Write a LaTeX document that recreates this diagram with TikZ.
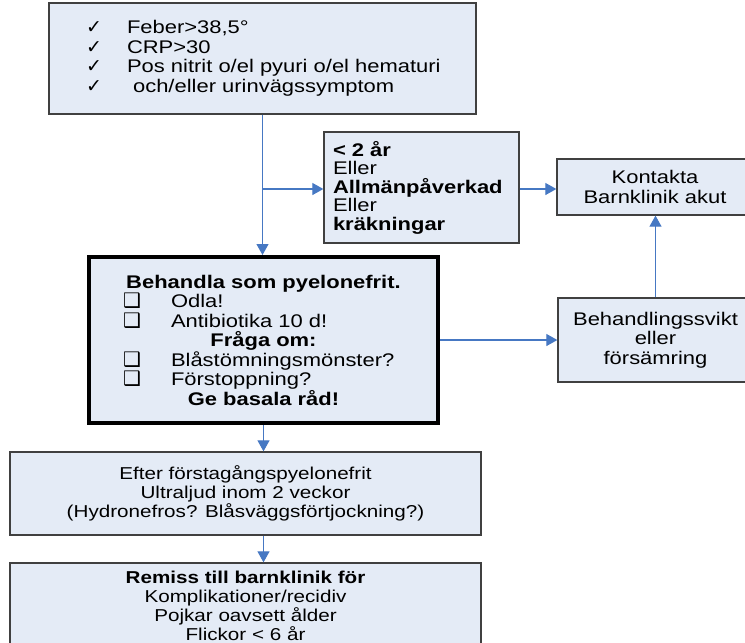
\documentclass[tikz,border=0pt]{standalone}
\usepackage{fontspec}
\setmainfont{Liberation Sans}[FakeStretch=1.2]
\newfontfamily\symf{DejaVu Sans}
\usetikzlibrary{arrows.meta}
\definecolor{boxfill}{RGB}{228,235,246}
\definecolor{boxline}{RGB}{64,64,64}
\definecolor{arrowblue}{RGB}{70,120,195}
\newcommand{\chk}{\makebox[41pt][l]{\symf\fontsize{19}{19}\selectfont ✓}}
\newcommand{\cbx}{\makebox[48pt][l]{\symf\fontsize{20}{19}\selectfont ❑}}
\begin{document}
\begin{tikzpicture}[x=1pt,y=-1pt,
  box/.style={draw=boxline, line width=1.3pt, fill=boxfill, inner sep=0pt,
    font=\fontsize{18.3}{19.5}\selectfont},
  smallbox/.style={box, font=\fontsize{17.2}{19}\selectfont},
  arr/.style={draw=arrowblue, line width=1.1pt, -{Triangle[length=11pt,width=12pt]}},
]
\useasboundingbox (0,0) rectangle (745,643);
\clip (0,0) rectangle (745,643);

\node[box, minimum width=427pt, minimum height=111pt, text width=353pt, align=left] (top) at (262.5,58.5)
  {\mbox{\chk Feber>38,5°}\\ \mbox{\chk CRP>30}\\ \mbox{\chk Pos nitrit o/el pyuri o/el hematuri}\\ \mbox{\chk\ och/eller urinvägssymptom}};

\node[box, minimum width=195pt, minimum height=111pt, text width=177pt, align=left,
  font=\fontsize{18.3}{18.5}\selectfont] (age) at (421.5,187.5)
  {\textbf{< 2 år}\\ Eller\\ \textbf{Allmänpåverkad}\\ Eller\\ \textbf{kräkningar}};

\node[box, minimum width=196pt, minimum height=56pt, align=center] (kontakt) at (655,187)
  {Kontakta\\ Barnklinik akut};

\node[box, draw=black, line width=4pt, minimum width=349pt, minimum height=166pt, text width=281pt, align=left] (main) at (263.5,340)
  {\makebox[\linewidth]{\bfseries Behandla som pyelonefrit.}\\
   \cbx Odla!\\
   \cbx Antibiotika 10 d!\\
   \makebox[\linewidth]{\bfseries Fråga om:}\\
   \cbx Blåstömningsmönster?\\
   \cbx Förstoppning?\\
   \makebox[\linewidth]{\bfseries Ge basala råd!}};

\node[box, minimum width=195pt, minimum height=84pt, align=center] (behand) at (655.5,340)
  {Behandlingssvikt\\ eller\\ försämring};

\node[smallbox, minimum width=471pt, minimum height=83pt, align=center] (efter) at (245.5,493.5)
  {Efter förstagångspyelonefrit\\ Ultraljud inom 2 veckor\\ (Hydronefros? Blåsväggsförtjockning?)};

\node[smallbox, minimum width=471pt, minimum height=86pt, align=center] (remiss) at (245.5,606)
  {\textbf{Remiss till barnklinik för}\\ Komplikationer/recidiv\\ Pojkar oavsett ålder\\ Flickor < 6 år};

\coordinate (br) at (262.5,189);
\draw[arr] (top.south) -- (top.south |- main.north);
\draw[arr] (br) -- (br -| age.west);
\draw[arr] (br -| age.east) -- (br -| kontakt.west);
\draw[arr] (behand.north) -- (behand.north |- kontakt.south);
\draw[arr] (main.east) -- (main.east -| behand.west);
\draw[arr] (main.south) -- (main.south |- efter.north);
\draw[arr] (efter.south -| main.south) -- (main.south |- remiss.north);
\end{tikzpicture}
\end{document}
